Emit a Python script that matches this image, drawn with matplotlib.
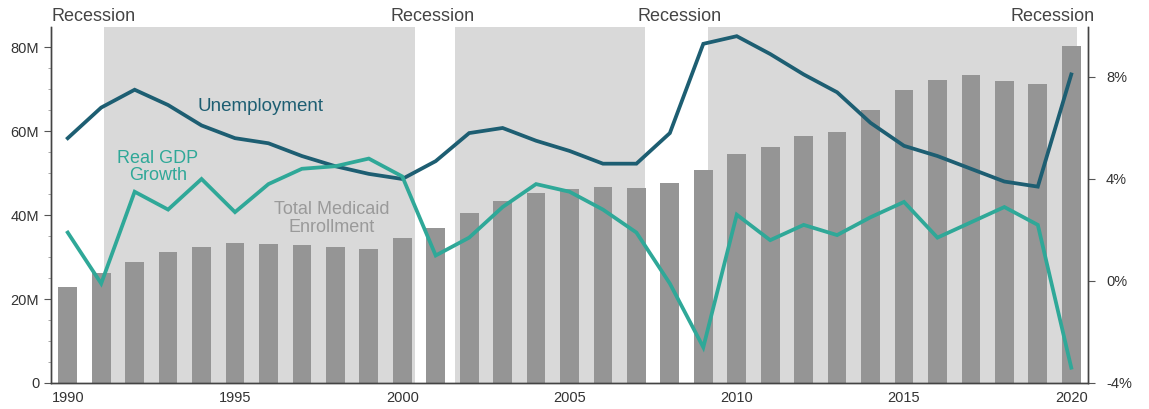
import matplotlib
matplotlib.use("Agg")
import matplotlib.pyplot as plt
import matplotlib.transforms as mtransforms
from matplotlib.ticker import FuncFormatter, MultipleLocator, NullLocator

plt.rcParams['font.family'] = ['Liberation Sans', 'DejaVu Sans']

years = list(range(1990, 2021))
medicaid_m = [22.9, 26.2, 28.8, 31.2, 32.4, 33.3, 33.1, 32.9, 32.4, 31.9,
              34.5, 36.9, 40.5, 43.3, 45.2, 46.2, 46.7, 46.4, 47.6, 50.7,
              54.5, 56.2, 58.8, 59.8, 65.0, 69.8, 72.1, 73.3, 71.9, 71.2, 80.2]
unemployment = [5.6, 6.8, 7.5, 6.9, 6.1, 5.6, 5.4, 4.9, 4.5, 4.2,
                4.0, 4.7, 5.8, 6.0, 5.5, 5.1, 4.6, 4.6, 5.8, 9.3,
                9.6, 8.9, 8.1, 7.4, 6.2, 5.3, 4.9, 4.4, 3.9, 3.7, 8.1]
gdp_growth = [1.9, -0.1, 3.5, 2.8, 4.0, 2.7, 3.8, 4.4, 4.5, 4.8,
              4.1, 1.0, 1.7, 2.9, 3.8, 3.5, 2.8, 1.9, -0.1, -2.6,
              2.6, 1.6, 2.2, 1.8, 2.5, 3.1, 1.7, 2.3, 2.9, 2.2, -3.4]
shaded_spans = [(1991.08, 2000.38), (2001.58, 2007.26), (2009.14, 2020.18)]
recession_labels = [(1989.5, 'left'), (2000.92, 'center'), (2008.3, 'center'), (2020.69, 'right')]

fig = plt.figure(figsize=(11.49, 4.09), dpi=100)
ax = fig.add_axes([0.0444, 0.0636, 0.9025, 0.8704])
ax2 = ax.twinx()

shade = '#d9d9d9'
bar_c = '#959595'
unemp_c = '#1d5e72'
gdp_c = '#2fa898'
txt_c = '#333333'

for a, b in shaded_spans:
    ax.axvspan(a, b, color=shade, lw=0, zorder=0)

ax.bar(years, medicaid_m, width=0.56, color=bar_c, zorder=2)
ax.set_xlim(1989.5, 2020.5)
ax.set_ylim(0, 84.8)
ax.yaxis.set_major_locator(MultipleLocator(20))
ax.yaxis.set_minor_locator(MultipleLocator(5))
ax.yaxis.set_major_formatter(FuncFormatter(lambda v, p: '0' if v == 0 else f'{int(v)}M'))
ax.set_xticks([1990, 1995, 2000, 2005, 2010, 2015, 2020])

ax2.plot(years, unemployment, color=unemp_c, lw=2.7, zorder=3, solid_joinstyle='miter')
ax2.plot(years, gdp_growth, color=gdp_c, lw=2.7, zorder=3, solid_joinstyle='miter')
ax2.set_ylim(-4, 9.96)
ax2.set_yticks([-4, 0, 4, 8])
ax2.yaxis.set_minor_locator(NullLocator())
ax2.yaxis.set_major_formatter(FuncFormatter(lambda v, p: f'{int(v)}%'))

for a_ in (ax, ax2):
    a_.spines['top'].set_visible(False)
    for s in ('left', 'right', 'bottom'):
        a_.spines[s].set_color('#444444')
        a_.spines[s].set_linewidth(1.0)
    a_.tick_params(axis='both', which='major', labelsize=10.5, colors='#555555', labelcolor=txt_c, length=5)
    a_.tick_params(axis='both', which='minor', length=2.5, colors='#999999')
ax.tick_params(axis='x', length=0, pad=6)
ax2.tick_params(axis='y', pad=8)

trans = mtransforms.blended_transform_factory(ax.transData, ax.transAxes)
for x, ha in recession_labels:
    ax.text(x, 1.03, 'Recession', transform=trans, ha=ha, va='center',
            fontsize=13, color='#444444')

ax2.text(1995.77, 6.86, 'Unemployment', color=unemp_c, fontsize=13.5, ha='center', va='center', zorder=5)
ax2.text(1992.7, 4.47, 'Real GDP\nGrowth', color=gdp_c, fontsize=13, ha='center', va='center',
         linespacing=1.0, zorder=5)
ax.text(1997.9, 39.2, 'Total Medicaid\nEnrollment', color='#9a9a9a', fontsize=13, ha='center',
        va='center', linespacing=1.05, zorder=5)

ax.set_zorder(1)
ax2.set_zorder(2)
ax.patch.set_visible(False)
ax2.patch.set_visible(False)
fig.patch.set_facecolor('white')

fig.savefig('out.png', dpi=100, facecolor='white')
